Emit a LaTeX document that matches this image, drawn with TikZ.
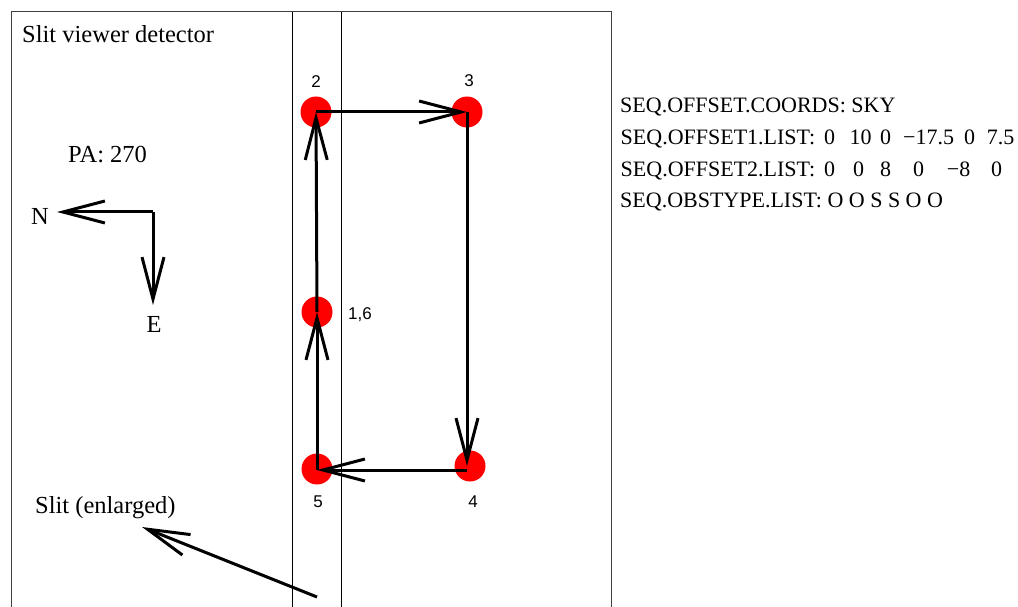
\documentclass[tikz,border=0pt]{standalone}
\usepackage{fontspec}
\setmainfont{Liberation Serif}
\newfontfamily\numfont{Liberation Sans}
\usetikzlibrary{arrows.meta}
\definecolor{boxgray}{HTML}{404040}
\definecolor{dotred}{HTML}{FF0000}
\newcommand\atx[2]{\makebox[0pt][l]{\hspace*{#1bp}\makebox[0pt][c]{#2}}}
\tikzset{
  pathline/.style={line width=3bp, line join=miter, -{Straight Barb[length=42bp,width=22bp]}},
  dot/.style={circle, fill=dotred, minimum size=31bp, inner sep=0pt},
  biglabel/.style={inner sep=0pt, font=\fontsize{24.5bp}{28bp}\selectfont},
  seqlabel/.style={inner sep=0pt, anchor=base west, font=\fontsize{22bp}{26bp}\selectfont},
  numlabel/.style={inner sep=0pt, anchor=base, font=\numfont\fontsize{17bp}{20bp}\selectfont},
  thin/.style={line width=1bp}
}
\begin{document}
\begin{tikzpicture}[x=1bp,y=-1bp]
\useasboundingbox (0,0) rectangle (1018,607);
% detector frame and slit
\draw[thin, boxgray] (11,607) -- (11,12) -- (611,12) -- (611,607);
\draw[thin, black] (292,12) -- (292,607);
\draw[thin, black] (341,12) -- (341,607);
% dots
\node[dot] (d2) at (316,112) {};
\node[dot] (d3) at (467,112) {};
\node[dot] (d16) at (317,312) {};
\node[dot] (d5) at (317,469) {};
\node[dot] (d4) at (470,466) {};
\coordinate (c2) at (316,112);
\coordinate (c3) at (467,112);
\coordinate (c16) at (317,312);
\coordinate (c5) at (317,470);
\coordinate (c4) at (467,470);
\coordinate (c4t) at (467,466);
% dot labels
\node[numlabel] (l2) at (316,88) {2};
\node[numlabel] (l3) at (469,87) {3};
\node[numlabel, anchor=base west] (l16) at (348,319) {1,6};
\node[numlabel] (l5) at (318,507) {5};
\node[numlabel] (l4) at (473,507) {4};
% path
\draw[pathline] (c16) -- (c2);
\draw[pathline] (c2) -- (c3);
\draw[pathline] (c3) -- (c4t);
\draw[pathline] (c4) -- (c5);
\draw[pathline] (c5) -- (c16);
% left labels
\node[biglabel, anchor=base west] (title) at (22,43) {Slit viewer detector};
\node[biglabel, anchor=base west] (pa) at (68,163) {PA: 270};
\node[biglabel, anchor=base] (nlab) at (40,225) {N};
\node[biglabel, anchor=base] (elab) at (154,332) {E};
\node[biglabel, anchor=base west] (slitlab) at (35,513) {Slit (enlarged)};
% compass
\coordinate (corner) at (153,212);
\coordinate (ntip) at (57,212);
\coordinate (etip) at (153,305);
\draw[pathline] (corner) -- (ntip);
\draw[pathline] (corner) -- (etip);
% slit pointer
\coordinate (slitfoot) at (317,597);
\coordinate (slittip) at (142,527);
\draw[pathline] (slitfoot) -- (slittip);
% sequence text
\node[seqlabel] (s1) at (620,113) {SEQ.OFFSET.COORDS: SKY};
\node[seqlabel] (s2) at (620,145) {\atx{0}{\makebox[0pt][l]{SEQ.OFFSET1.LIST:}}\atx{209}{0}\atx{240}{10}\atx{265}{0}\atx{308}{−17.5}\atx{349}{0}\atx{380}{7.5}};
\node[seqlabel] (s3) at (620,177) {\atx{0}{\makebox[0pt][l]{SEQ.OFFSET2.LIST:}}\atx{209}{0}\atx{238}{0}\atx{265}{8}\atx{298}{0}\atx{338}{−8}\atx{376}{0}};
\node[seqlabel] (s4) at (620,208) {SEQ.OBSTYPE.LIST: O O S S O O};
\end{tikzpicture}
\end{document}
